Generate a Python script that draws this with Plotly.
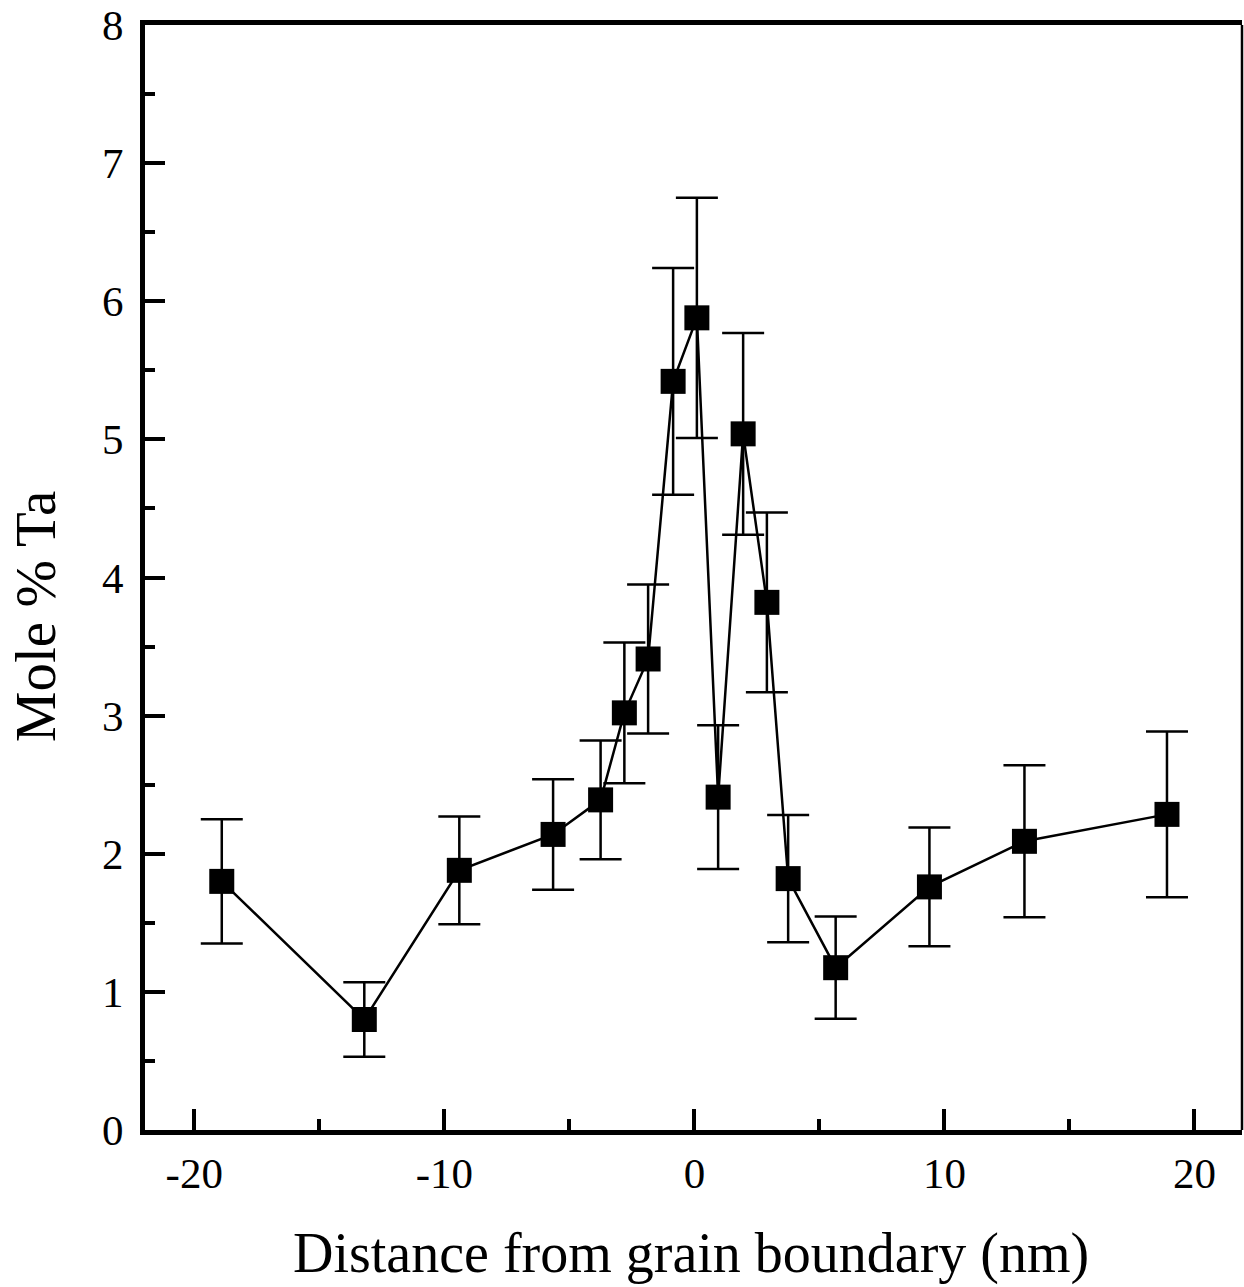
import plotly.graph_objects as go

# Data
distance_nm = [-18.9, -13.2, -9.4, -5.65, -3.75, -2.8, -1.85, -0.85, 0.1, 0.95,
               1.95, 2.9, 3.75, 5.65, 9.4, 13.2, 18.9]
mole_pct_ta = [1.80, 0.80, 1.88, 2.14, 2.39, 3.02, 3.41, 5.42, 5.88, 2.41,
               5.04, 3.82, 1.82, 1.175, 1.76, 2.09, 2.285]
error_pct = [0.45, 0.27, 0.39, 0.40, 0.43, 0.51, 0.54, 0.82, 0.87, 0.52,
             0.73, 0.65, 0.46, 0.37, 0.43, 0.55, 0.60]

x_ticks = [-20, -10, 0, 10, 20]
y_ticks = [0, 1, 2, 3, 4, 5, 6, 7, 8]

FONT = "Liberation Serif"

fig = go.Figure()
fig.add_trace(go.Scatter(
    x=distance_nm, y=mole_pct_ta,
    mode="lines+markers",
    line=dict(color="black", width=2.5),
    marker=dict(symbol="square", size=25, color="black"),
    error_y=dict(type="data", array=error_pct, visible=True,
                 color="black", thickness=2.5, width=21),
    showlegend=False,
))

fig.update_layout(
    width=1244, height=1287,
    margin=dict(l=145, r=2, t=25, b=157),
    paper_bgcolor="white", plot_bgcolor="white",
    font=dict(family=FONT, color="black"),
    xaxis=dict(
        range=[-21.97, 21.9],
        tickvals=x_ticks, ticktext=[str(v) for v in x_ticks],
        ticks="inside", ticklen=21, tickwidth=3.5, tickcolor="black",
        minor=dict(dtick=5, tick0=-15, ticks="inside", ticklen=11,
                   tickwidth=3.5, tickcolor="black", showgrid=False),
        showline=True, linewidth=5, linecolor="black", mirror=True,
        showgrid=False, zeroline=False,
        tickfont=dict(family=FONT, size=43, color="black"),
        ticklabelstandoff=1,
    ),
    yaxis=dict(
        range=[0, 8],
        tickvals=y_ticks, ticktext=[str(v) for v in y_ticks],
        ticks="inside", ticklen=20, tickwidth=3.5, tickcolor="black",
        minor=dict(dtick=0.5, tick0=0.5, ticks="inside", ticklen=10,
                   tickwidth=3.5, tickcolor="black", showgrid=False),
        showline=True, linewidth=5, linecolor="black", mirror=False,
        showgrid=False, zeroline=False,
        tickfont=dict(family=FONT, size=43, color="black"),
        ticklabelstandoff=8,
    ),
    shapes=[dict(type="line", xref="paper", yref="paper", x0=1, x1=1, y0=0, y1=1,
                 line=dict(color="black", width=2.5))],
    annotations=[
        dict(text="Distance from grain boundary (nm)", xref="paper", yref="paper",
             x=0.498, y=-0.112, xanchor="center", yanchor="middle", showarrow=False,
             font=dict(family=FONT, size=56, color="black")),
        dict(text="Mole % Ta", xref="paper", yref="paper", textangle=-90,
             x=-0.1003, y=0.465, xanchor="center", yanchor="middle", showarrow=False,
             font=dict(family=FONT, size=57, color="black")),
    ],
)

fig.write_html("out.html")
